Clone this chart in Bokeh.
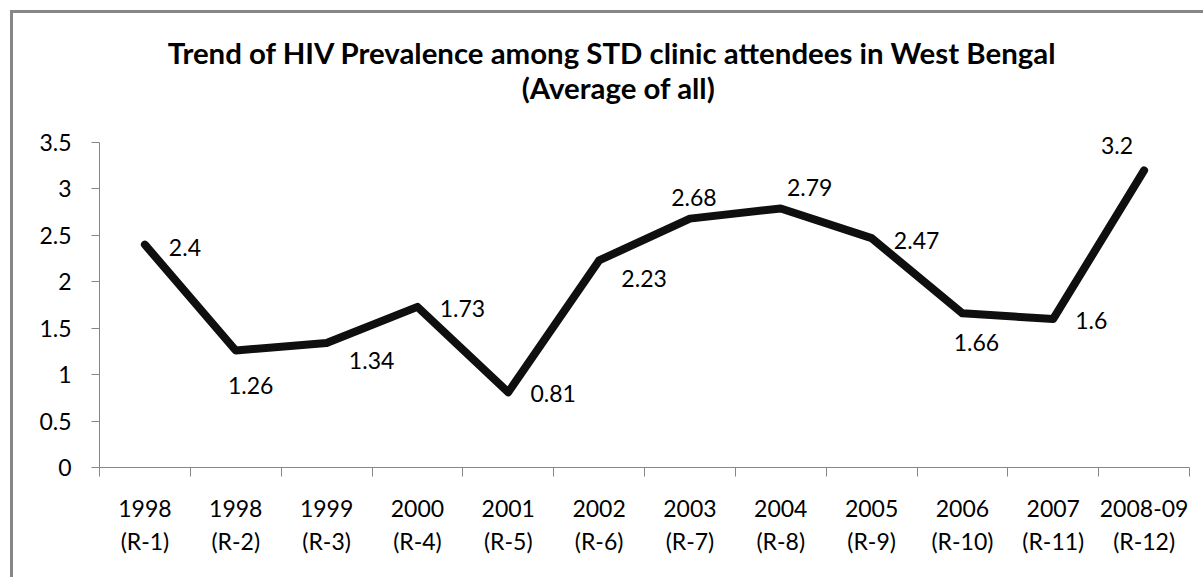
from bokeh.plotting import figure
from bokeh.models import (FixedTicker, NumeralTickFormatter, Range1d, Label,
                          LabelSet, ColumnDataSource)
from bokeh.core.properties import value
from bokeh.embed import file_html
from bokeh.resources import INLINE

# ---- data ----
years = ["1998", "1998", "1999", "2000", "2001", "2002", "2003", "2004",
         "2005", "2006", "2007", "2008-09"]
rounds = ["(R-1)", "(R-2)", "(R-3)", "(R-4)", "(R-5)", "(R-6)", "(R-7)", "(R-8)",
          "(R-9)", "(R-10)", "(R-11)", "(R-12)"]
prevalence = [2.4, 1.26, 1.34, 1.73, 0.81, 2.23, 2.68, 2.79, 2.47, 1.66, 1.6, 3.2]
value_labels = ["2.4", "1.26", "1.34", "1.73", "0.81", "2.23", "2.68", "2.79",
                "2.47", "1.66", "1.6", "3.2"]
y_ticks = [0, 0.5, 1, 1.5, 2, 2.5, 3, 3.5]
title_line1 = "Trend of HIV Prevalence among STD clinic attendees in West Bengal"
title_line2 = "(Average of all)"

# label placement (screen pixel offsets; dx right, dy up)
lab_dx = [40, 15, 45, 45, 45, 45, 4, 29, 45, 14, 38, -27]
lab_dy = [-3, -35, -17, -2, -1, -18, 21, 21, -2, -29, -2, 25]

FONT = "Lato"
n = len(years)
xs = list(range(n))

# ---- layout (pixels) ----
# value 0 at y=467 and the axis maximum 3.5 at y=142; the plotting area reaches
# further up (with the y axis bounded at 3.5) so that the title can sit inside it.
W, H = 1203, 577
AXIS_MAX = 3.5
FRAME_LEFT, FRAME_RIGHT = 99, 1189
Y0_PX, YMAX_PX, FRAME_TOP = 467, 142, 18
px_per_unit = (Y0_PX - YMAX_PX) / AXIS_MAX
px_per_cat = (FRAME_RIGHT - FRAME_LEFT) / n
y_end = (Y0_PX - FRAME_TOP) / px_per_unit


def page_to_data(px, py):
    return -0.5 + (px - FRAME_LEFT) / px_per_cat, (Y0_PX - py) / px_per_unit


p = figure(width=W, height=H, output_backend="svg", toolbar_location=None,
           x_range=Range1d(-0.5, n - 0.5), y_range=Range1d(0, y_end),
           min_border_left=FRAME_LEFT, min_border_right=W - FRAME_RIGHT,
           min_border_top=FRAME_TOP, min_border_bottom=H - Y0_PX)
p.outline_line_color = None
p.grid.visible = False
p.background_fill_color = None
p.border_fill_color = None
p.styles = {
    "background": ("linear-gradient(#878787, #878787) 10px 10px / 3px 100% no-repeat, "
                   "linear-gradient(#878787, #878787) 10px 10px / 100% 3px no-repeat, "
                   "white")
}

src = ColumnDataSource(dict(x=xs, y=prevalence, lab=value_labels, dx=lab_dx, dy=lab_dy))
p.line("x", "y", source=src, line_width=8, line_color="#0f0f0f",
       line_join="round", line_cap="round")
p.add_layout(LabelSet(x="x", y="y", text="lab", source=src, x_offset="dx", y_offset="dy",
                      text_font=value(FONT), text_font_size=value("23px"),
                      text_color="#000000", text_align="center",
                      text_baseline="middle"))

# axes
ax = p.xaxis[0]
ax.ticker = FixedTicker(ticks=xs, minor_ticks=[i - 0.5 for i in range(n + 1)])
ax.major_label_overrides = {i: f"{years[i]}\n{rounds[i]}" for i in xs}
ax.major_tick_out = 0
ax.major_tick_in = 0
ax.minor_tick_out = 9
ax.minor_tick_in = 0
ax.minor_tick_line_color = "#868686"
ax.axis_line_color = "#868686"
ax.major_label_text_font = FONT
ax.major_label_text_font_size = "23px"
ax.major_label_text_color = "#000000"
ax.major_label_text_line_height = 1.18
ax.major_label_standoff = 17

ay = p.yaxis[0]
ay.ticker = FixedTicker(ticks=y_ticks, minor_ticks=[])
ay.bounds = (0, AXIS_MAX)
ay.formatter = NumeralTickFormatter(format="0.[0]")
ay.major_tick_out = 8
ay.major_tick_in = 0
ay.major_tick_line_color = "#868686"
ay.axis_line_color = "#868686"
ay.major_label_text_font = FONT
ay.major_label_text_font_size = "23px"
ay.major_label_text_color = "#000000"
ay.major_label_standoff = 20

# two-line chart title
for text, (cx, cy) in ((title_line1, (612, 52)), (title_line2, (618, 87))):
    tx, ty = page_to_data(cx, cy)
    p.add_layout(Label(x=tx, y=ty, text=text, text_font=FONT, text_font_size="29.4px",
                       text_font_style="bold", text_color="#000000",
                       text_align="center", text_baseline="middle"))

open("out.html", "w").write(file_html(p, INLINE))
